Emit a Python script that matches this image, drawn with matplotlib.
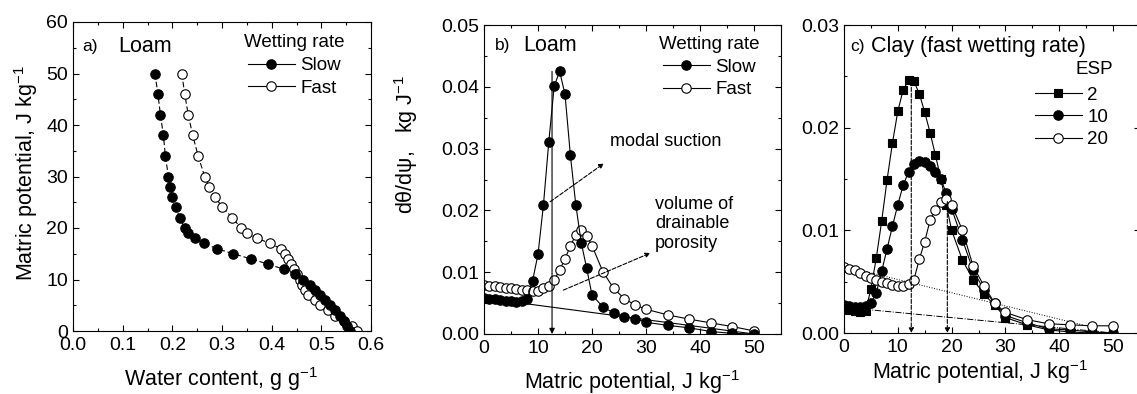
import matplotlib
matplotlib.use("Agg")
from matplotlib import pyplot as plt
from matplotlib.ticker import MultipleLocator, FormatStrFormatter

# panel a: water retention, loam
psi_a = [50, 46, 42, 38, 34, 30, 28, 26, 24, 22, 20, 19, 18, 17, 16, 15, 14, 13, 12, 11, 10,
         9, 8, 7, 6, 5, 4, 3, 2, 1, 0]
theta_slow = [0.165, 0.171, 0.176, 0.182, 0.186, 0.192, 0.196, 0.200, 0.207, 0.215, 0.225,
              0.232, 0.245, 0.264, 0.289, 0.323, 0.358, 0.393, 0.424, 0.447, 0.464,
              0.477, 0.488, 0.498, 0.508, 0.518, 0.528, 0.538, 0.545, 0.551, 0.558]
theta_fast = [0.219, 0.225, 0.232, 0.241, 0.252, 0.265, 0.274, 0.286, 0.301, 0.321, 0.338,
              0.350, 0.371, 0.397, 0.418, 0.426, 0.432, 0.438, 0.444, 0.451, 0.457,
              0.461, 0.467, 0.474, 0.488, 0.498, 0.514, 0.528, 0.545, 0.562, 0.572]

# panel b: d theta / d psi, loam
psi_b = [0, 1, 2, 3, 4, 5, 6, 7, 8, 9, 10, 11, 12, 13, 14, 15, 16, 17, 18, 19, 20,
         22, 24, 26, 28, 30, 34, 38, 42, 46, 50]
dtheta_slow = [0.0058, 0.0057, 0.0056, 0.0055, 0.0054, 0.0053, 0.0052, 0.0053, 0.0056,
               0.0086, 0.0129, 0.0208, 0.0311, 0.0401, 0.0425, 0.0388, 0.0289, 0.0209,
               0.0148, 0.0107, 0.0063, 0.0044, 0.0034, 0.0028, 0.0025, 0.0019, 0.0014,
               0.0010, 0.0004, 0.0001, 0.0000]
dtheta_fast = [0.0079, 0.0078, 0.0077, 0.0076, 0.0075, 0.0074, 0.0073, 0.0072, 0.0071,
               0.0070, 0.0070, 0.0074, 0.0078, 0.0088, 0.0103, 0.0122, 0.0142, 0.0161,
               0.0168, 0.0159, 0.0143, 0.0101, 0.0074, 0.0057, 0.0047, 0.0040, 0.0031,
               0.0024, 0.0018, 0.0012, 0.0005]
base_b_x = [0, 50]
base_b_y = [0.0058, 0.0]

# panel c: clay, fast wetting, three ESP levels
psi_c = psi_b
esp2 = [0.0023, 0.0022, 0.0021, 0.0020, 0.0021, 0.0043, 0.0073, 0.0109, 0.0149, 0.0185,
        0.0216, 0.0237, 0.0246, 0.0245, 0.0233, 0.0215, 0.0195, 0.0173, 0.0150, 0.0125,
        0.0100, 0.0071, 0.0052, 0.0038, 0.0027, 0.0015, 0.0008, 0.0003, 0.0001, 0.0000,
        0.0000]
esp10 = [0.0027, 0.0026, 0.0025, 0.0025, 0.0026, 0.0029, 0.0039, 0.0060, 0.0082, 0.0104,
         0.0125, 0.0144, 0.0157, 0.0165, 0.0168, 0.0167, 0.0163, 0.0157, 0.0150, 0.0136,
         0.0121, 0.0091, 0.0061, 0.0042, 0.0029, 0.0017, 0.0010, 0.0004, 0.0003, 0.0001,
         0.0000]
esp20 = [0.0064, 0.0062, 0.0061, 0.0058, 0.0056, 0.0054, 0.0052, 0.0050, 0.0049, 0.0047,
         0.0046, 0.0046, 0.0048, 0.0052, 0.0072, 0.0089, 0.0110, 0.0120, 0.0128, 0.0131,
         0.0125, 0.0100, 0.0065, 0.0046, 0.0029, 0.0020, 0.0013, 0.0009, 0.0008, 0.0007,
         0.0007]
base20_x = [0, 45]
base20_y = [0.0065, 0.0007]
base2_x = [0, 50]
base2_y = [0.0025, 0.0]
modal_c = [12.5, 19.2]
modal_c_top = [0.0245, 0.0128]

plt.rcParams['font.family'] = ['Liberation Sans', 'DejaVu Sans']
plt.rcParams['mathtext.fontset'] = 'custom'
plt.rcParams['mathtext.rm'] = 'Liberation Sans'
plt.rcParams['mathtext.it'] = 'Liberation Sans:italic'
plt.rcParams['xtick.direction'] = 'in'
plt.rcParams['ytick.direction'] = 'in'
plt.rcParams['xtick.top'] = True
plt.rcParams['ytick.right'] = True
plt.rcParams['axes.linewidth'] = 0.8

W, H = 1137, 394
fig = plt.figure(figsize=(W / 100, H / 100), dpi=100)


def box(l, r, t, b):
    return [l / W, (H - b) / H, (r - l) / W, (b - t) / H]


axa = fig.add_axes(box(73, 371, 22, 331))
axb = fig.add_axes(box(484, 781, 25, 334))
axc = fig.add_axes(box(844, 1140, 25, 333))

mk = dict(color='k', lw=0.8, ms=6.8, mew=0.8, mec='k')
tfs = 14
lfs = 15.5
gfs = 13.5
leg_kw = dict(frameon=False, loc='upper left', fontsize=gfs, title_fontsize=gfs,
              handlelength=2.5, handletextpad=0.3, labelspacing=0.3, borderpad=0,
              borderaxespad=0)


def style(ax):
    ax.tick_params(which='both', labelsize=tfs, width=0.8)
    ax.tick_params(which='major', length=4)
    ax.tick_params(which='minor', length=2)
    ax.tick_params(axis='x', pad=4.5)


# ---- a)
axa.plot(theta_fast, psi_a, marker='o', mfc='white', ls=(0, (5, 2.5)), label='Fast', **mk)
axa.plot(theta_slow, psi_a, marker='o', mfc='k', ls=(0, (5, 2.5)), label='Slow', **mk)
axa.set_xlim(0, 0.6)
axa.set_ylim(0, 60)
axa.xaxis.set_major_locator(MultipleLocator(0.1))
axa.xaxis.set_minor_locator(MultipleLocator(0.05))
axa.xaxis.set_major_formatter(FormatStrFormatter('%.1f'))
axa.yaxis.set_major_locator(MultipleLocator(10))
axa.yaxis.set_minor_locator(MultipleLocator(5))
style(axa)
axa.set_xlabel('Water content, g g$^{-1}$', fontsize=lfs)
axa.set_ylabel('Matric potential, J kg$^{-1}$', fontsize=lfs)
axa.xaxis.set_label_coords(0.498, -0.11)
axa.yaxis.set_label_coords(-0.11, 0.51)
axa.text(0.03, 0.92, 'a)', transform=axa.transAxes, fontsize=12.5, va='center')
axa.text(0.151, 0.92, 'Loam', transform=axa.transAxes, fontsize=15.5, va='center')
h, l = axa.get_legend_handles_labels()
leg = axa.legend(h[::-1], l[::-1], title='Wetting rate', bbox_to_anchor=(0.575, 0.96),
                 **leg_kw)
for ln in leg.get_lines():
    ln.set_linestyle('-')

# ---- b)
axb.plot(base_b_x, base_b_y, color='k', lw=0.8)
axb.plot(psi_b, dtheta_fast, marker='o', mfc='white', label='Fast', **mk)
axb.plot(psi_b, dtheta_slow, marker='o', mfc='k', label='Slow', **mk)
axb.set_xlim(0, 55)
axb.set_ylim(0, 0.05)
axb.xaxis.set_major_locator(MultipleLocator(10))
axb.xaxis.set_minor_locator(MultipleLocator(5))
axb.yaxis.set_major_locator(MultipleLocator(0.01))
axb.yaxis.set_minor_locator(MultipleLocator(0.005))
axb.yaxis.set_major_formatter(FormatStrFormatter('%.2f'))
style(axb)
axb.set_xlabel('Matric potential, J kg$^{-1}$', fontsize=lfs)
axb.set_ylabel('d\u03b8/d\u03c8,   kg J$^{-1}$', fontsize=lfs)
axb.xaxis.set_label_coords(0.498, -0.11)
axb.yaxis.set_label_coords(-0.215, 0.615)
axb.text(0.037, 0.935, 'b)', transform=axb.transAxes, fontsize=12.5, va='center')
axb.text(0.131, 0.935, 'Loam', transform=axb.transAxes, fontsize=15.5, va='center')
axb.annotate('', xy=(12.6, 0), xytext=(12.6, 0.0425),
             arrowprops=dict(arrowstyle='-|>', color='k', lw=0.8, mutation_scale=8,
                             shrinkA=0, shrinkB=0))
axb.annotate('', xy=(22.2, 0.0276), xytext=(12.25, 0.0214),
             arrowprops=dict(arrowstyle='-|>', color='k', lw=0.8, ls='--',
                             mutation_scale=7, shrinkA=0, shrinkB=0))
axb.annotate('', xy=(30.8, 0.0131), xytext=(14.7, 0.0071),
             arrowprops=dict(arrowstyle='-|>', color='k', lw=0.8, ls='--',
                             mutation_scale=7, shrinkA=0, shrinkB=0))
axb.text(23.4, 0.0311, 'modal suction', fontsize=13, va='center')
axb.text(31.7, 0.0178, 'volume of\ndrainable\nporosity', fontsize=13, va='center',
         linespacing=1.2)
h, l = axb.get_legend_handles_labels()
axb.legend(h[::-1], l[::-1], title='Wetting rate', bbox_to_anchor=(0.59, 0.965), **leg_kw)

# ---- c)
axc.plot(base2_x, base2_y, color='k', lw=0.7, ls='-.')
axc.plot(base20_x, base20_y, color='k', lw=0.7, ls=':')
for x0, y0 in zip(modal_c, modal_c_top):
    axc.annotate('', xy=(x0, 0), xytext=(x0, y0),
                 arrowprops=dict(arrowstyle='-|>', color='k', lw=0.8, ls='--',
                                 mutation_scale=7, shrinkA=0, shrinkB=0))
axc.plot(psi_c, esp2, marker='s', mfc='k', label='2', color='k', lw=0.8, ms=6, mew=0.8)
axc.plot(psi_c, esp10, marker='o', mfc='k', label='10', **mk)
axc.plot(psi_c, esp20, marker='o', mfc='white', label='20', **mk)
axc.set_xlim(0, 55)
axc.set_ylim(0, 0.03)
axc.xaxis.set_major_locator(MultipleLocator(10))
axc.xaxis.set_minor_locator(MultipleLocator(5))
axc.yaxis.set_major_locator(MultipleLocator(0.01))
axc.yaxis.set_minor_locator(MultipleLocator(0.005))
axc.yaxis.set_major_formatter(FormatStrFormatter('%.2f'))
style(axc)
axc.set_xlabel('Matric potential, J kg$^{-1}$', fontsize=lfs)
axc.xaxis.set_label_coords(0.46, -0.08)
axc.text(0.02, 0.93, 'c)', transform=axc.transAxes, fontsize=12.5, va='center')
axc.text(0.09, 0.93, 'Clay (fast wetting rate)', transform=axc.transAxes,
         fontsize=15.5, va='center')
axc.text(0.908, 0.854, 'ESP', transform=axc.transAxes, fontsize=gfs, va='center',
         ha='right')
axc.legend(bbox_to_anchor=(0.645, 0.8), **dict(leg_kw, labelspacing=0.27))

plt.savefig('out.png', dpi=100)
